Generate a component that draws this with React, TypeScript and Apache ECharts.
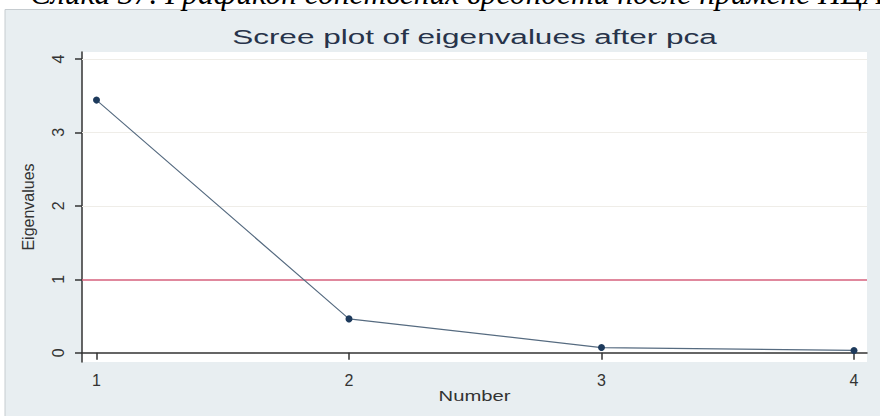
import React, { useEffect, useRef } from "react";
import * as echarts from "echarts";

const caption = "Слика 37. Графикон сопствених вредности после примене ПЦА";
const chartTitle = "Scree plot of eigenvalues after pca";
const xTitle = "Number";
const yTitle = "Eigenvalues";
const components = [1, 2, 3, 4];
const eigenvalues = [3.44, 0.46, 0.07, 0.03];
const yTicks = [0, 1, 2, 3, 4];
const xTicks = [1, 2, 3, 4];
const gridValues = [2, 3, 4];
const referenceValue = 1;

export default function App() {
  const ref = useRef<HTMLDivElement>(null);
  useEffect(() => {
    if (!ref.current) return;
    const chart = echarts.init(ref.current, null, { renderer: "svg" });
    const seriesData = components.map((c, i) => [c, eigenvalues[i]]);
    chart.setOption({
      animation: false,
      backgroundColor: "#ffffff",
      graphic: [
        {
          type: "rect",
          z: -10,
          shape: { x: 5, y: 9.5, width: 880, height: 410 },
          style: { fill: "#e8eef1", stroke: "#c6ccd0", lineWidth: 1 },
        },
        {
          type: "text",
          x: 30,
          y: 9,
          z: -5,
          style: {
            text: caption,
            fontFamily: "Liberation Serif",
            fontStyle: "italic",
            fontSize: 31.5,
            lineHeight: 32,
            fill: "#000",
            verticalAlign: "bottom",
            align: "left",
          },
        },
        {
          type: "text",
          x: 474.5,
          y: 37,
          scaleX: 1.5,
          style: {
            text: chartTitle,
            fontFamily: "Liberation Sans",
            fontSize: 21,
            fill: "#27334a",
            align: "center",
            verticalAlign: "middle",
          },
        },
        {
          type: "text",
          x: 474.5,
          y: 396,
          scaleX: 1.35,
          style: {
            text: xTitle,
            fontFamily: "Liberation Sans",
            fontSize: 15,
            fill: "#333",
            align: "center",
            verticalAlign: "middle",
          },
        },
      ],
      grid: {
        left: 82,
        top: 52,
        right: 13,
        bottom: 54,
        show: true,
        backgroundColor: "#ffffff",
        borderWidth: 0,
      },
      xAxis: {
        type: "value",
        min: 0.9426,
        max: 4.0515,
        axisLine: { show: true, lineStyle: { color: "#333", width: 1.5 } },
        axisTick: { show: true, length: 7, customValues: xTicks, lineStyle: { color: "#333", width: 1.5 } },
        axisLabel: {
          customValues: xTicks,
          fontFamily: "Liberation Sans",
          fontSize: 16,
          color: "#333",
          margin: 10,
        },
        splitLine: { show: false },
      },
      yAxis: {
        type: "value",
        min: -0.127,
        max: 4.095,
        name: yTitle,
        nameLocation: "middle",
        nameGap: 46,
        nameRotate: 90,
        nameTextStyle: { fontFamily: "Liberation Sans", fontSize: 16, color: "#333" },
        axisLine: { show: true, lineStyle: { color: "#333", width: 1.5 } },
        axisTick: { show: true, length: 7, customValues: yTicks, lineStyle: { color: "#333", width: 1.5 } },
        axisLabel: {
          customValues: yTicks,
          rotate: 90,
          fontFamily: "Liberation Sans",
          fontSize: 16,
          color: "#333",
          margin: 16,
        },
        splitLine: { show: false },
      },
      series: [
        {
          type: "line",
          data: [],
          z: 1,
          silent: true,
          markLine: {
            silent: true,
            symbol: "none",
            label: { show: false },
            data: [
              ...gridValues.map((v) => ({ yAxis: v, lineStyle: { color: "#efede8", width: 1, type: "solid" } })),
              { yAxis: referenceValue, lineStyle: { color: "#d6607c", width: 1.5, type: "solid" } },
            ],
          },
        },
        {
          type: "line",
          data: seriesData,
          z: 5,
          symbol: "circle",
          symbolSize: 7,
          itemStyle: { color: "#1d3a5c" },
          lineStyle: { color: "#566b80", width: 1.2 },
        },
      ],
    });
    return () => chart.dispose();
  }, []);
  return (
    <div
      ref={ref}
      style={{ position: "fixed", left: 0, top: 0, width: 880, height: 416 }}
    />
  );
}
